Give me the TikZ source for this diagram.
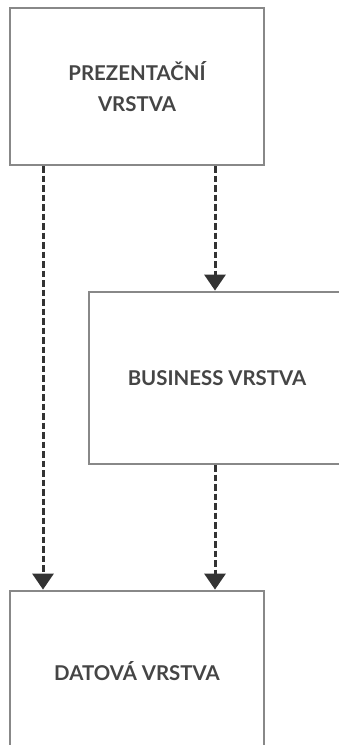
\documentclass[tikz,border=0pt]{standalone}
\usepackage{fontspec}
\setmainfont{Lato}
\usetikzlibrary{arrows.meta}
\definecolor{boxgray}{HTML}{888888}
\definecolor{txtgray}{HTML}{454545}
\definecolor{arrowdark}{HTML}{333333}
\tikzset{
  layerbox/.style={draw=boxgray, line width=2.8pt, fill=white, inner sep=0pt, align=center,
    font=\fontsize{20.4}{31}\selectfont\bfseries, text=txtgray},
  dep/.style={draw=arrowdark, line width=3pt, dash pattern=on 6.5pt off 3pt,
    -{Triangle[width=21pt,length=16pt]}, shorten >=0pt}
}
\begin{document}
\begin{tikzpicture}[x=1pt,y=-1pt]
\useasboundingbox (0,0) rectangle (338,745);
\node[layerbox, minimum width=254pt, minimum height=157pt] (pres) at (137,86.5) {PREZENTAČNÍ\\VRSTVA};
\node[layerbox, minimum width=256pt, minimum height=172pt] (bus) at (217,378) {BUSINESS VRSTVA};
\node[layerbox, minimum width=254pt, minimum height=160pt] (data) at (137,671) {DATOVÁ VRSTVA};
\coordinate (pL) at (43,166);
\coordinate (pR) at (215,166);
\coordinate (bR) at (215,465);
\draw[dep] (pL) -- (pL |- data.north);
\draw[dep] (pR) -- (pR |- bus.north);
\draw[dep] (bR) -- (bR |- data.north);
\end{tikzpicture}
\end{document}
